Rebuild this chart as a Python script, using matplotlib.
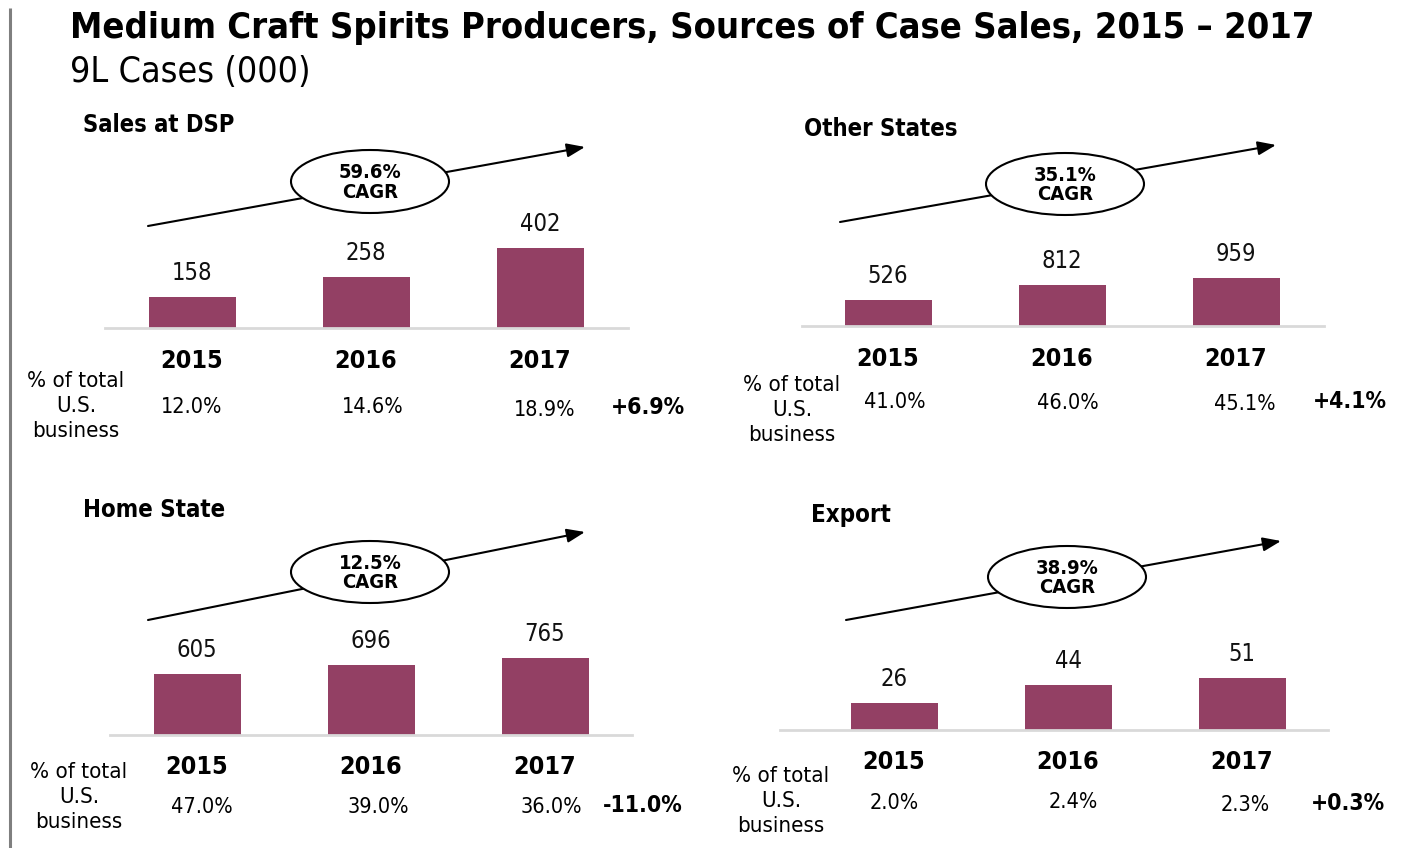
import matplotlib
matplotlib.use("Agg")
import matplotlib.pyplot as plt
from matplotlib import font_manager as fm
from matplotlib.patches import Ellipse
import matplotlib.transforms as mtransforms

# ---------------- data ----------------
years = ["2015", "2016", "2017"]

dsp_cases = [158, 258, 402]
dsp_share = ["12.0%", "14.6%", "18.9%"]
dsp_change = "+6.9%"
dsp_cagr = "59.6%"

other_cases = [526, 812, 959]
other_share = ["41.0%", "46.0%", "45.1%"]
other_change = "+4.1%"
other_cagr = "35.1%"

home_cases = [605, 696, 765]
home_share = ["47.0%", "39.0%", "36.0%"]
home_change = "-11.0%"
home_cagr = "12.5%"

export_cases = [26, 44, 51]
export_share = ["2.0%", "2.4%", "2.3%"]
export_change = "+0.3%"
export_cagr = "38.9%"

panel_titles = ["Sales at DSP", "Other States", "Home State", "Export"]
main_title = "Medium Craft Spirits Producers, Sources of Case Sales, 2015 \u2013 2017"
subtitle = "9L Cases (000)"
share_label = "% of total\nU.S.\nbusiness"

# ---------------- fonts ----------------
names = {f.name for f in fm.fontManager.ttflist}
if "Liberation Sans Narrow" in names:
    NARROW = dict(family="Liberation Sans Narrow")
elif any(f.name == "DejaVu Sans" and f.stretch == "condensed" for f in fm.fontManager.ttflist):
    NARROW = dict(family="DejaVu Sans", fontstretch="condensed")
else:
    NARROW = dict(family="Liberation Sans")
TITLE_BOLD = dict(NARROW, fontweight="bold")

W, H = 1405, 848
BAR_COLOR = "#934064"
fig = plt.figure(figsize=(W / 100, H / 100), dpi=100)
fig.patch.set_facecolor("white")

ov = fig.add_axes([0, 0, 1, 1])
ov.set_xlim(0, W)
ov.set_ylim(H, 0)
ov.axis("off")
ov.set_zorder(5)

renderer = fig.canvas.get_renderer()


def fit(t, target_w):
    bb = t.get_window_extent(renderer=renderer)
    t.set_fontsize(t.get_fontsize() * target_w / bb.width)


# left rule
ov.plot([10, 10], [8, H], color="#7f7f7f", lw=2.2, solid_capstyle="butt")

t = ov.text(70, 28, main_title, ha="left", va="center", fontsize=24, **TITLE_BOLD)
fit(t, 1243)
t = ov.text(70, 72, subtitle, ha="left", va="center", fontsize=24, **NARROW)
fit(t, 241)

panels = [
    dict(cases=dsp_cases, share=dsp_share, change=dsp_change, cagr=dsp_cagr,
         title=panel_titles[0], title_xy=(83, 125), title_w=152,
         line=(105, 628), base=328, scale=0.199, c0=192,
         arrow=((148, 226), (585, 147)), ell=(370, 181.5, 158, 63),
         year_y=361, lab=(76, 406),
         pct=[(192, 407), (373, 407), (545, 410)], chg=(648, 408)),
    dict(cases=other_cases, share=other_share, change=other_change, cagr=other_cagr,
         title=panel_titles[1], title_xy=(804, 129), title_w=154,
         line=(802, 1324), base=326, scale=0.050, c0=888,
         arrow=((840, 222), (1276, 145)), ell=(1065, 184, 158, 62),
         year_y=359, lab=(792, 410),
         pct=[(895, 402), (1068, 403), (1245, 404)], chg=(1350, 402)),
    dict(cases=home_cases, share=home_share, change=home_change, cagr=home_cagr,
         title=panel_titles[2], title_xy=(83, 510), title_w=143,
         line=(110, 632), base=735, scale=0.1007, c0=197,
         arrow=((148, 620), (585, 532)), ell=(370, 572, 158, 62),
         year_y=767, lab=(79, 797),
         pct=[(202, 807), (378, 807), (551, 807)], chg=(643, 806)),
    dict(cases=export_cases, share=export_share, change=export_change, cagr=export_cagr,
         title=panel_titles[3], title_xy=(811, 515), title_w=80,
         line=(780, 1328), base=730, scale=1.02, c0=894,
         arrow=((846, 620), (1281, 541)), ell=(1067, 577, 158, 62),
         year_y=762, lab=(781, 801),
         pct=[(894, 803), (1073, 802), (1245, 805)], chg=(1348, 804)),
]

SPACING = 174
AX_H = 120

for p in panels:
    x0, x1 = p["line"]
    ax = fig.add_axes([x0 / W, (H - p["base"]) / H, (x1 - x0) / W, AX_H / H])
    ax.set_xlim((x0 - p["c0"]) / SPACING, (x1 - p["c0"]) / SPACING)
    ax.set_ylim(0, AX_H / p["scale"])
    ax.bar(range(len(years)), p["cases"], width=0.5, color=BAR_COLOR, zorder=2)
    ax.axis("off")
    ax.patch.set_alpha(0)
    for i, v in enumerate(p["cases"]):
        ax.annotate(f"{v}", (i, v), xytext=(0, 24), textcoords="offset pixels",
                    ha="center", va="center", fontsize=17, color="#111111", **NARROW)
    ov.plot([x0, x1], [p["base"], p["base"]], color="#d9d9d9", lw=2, zorder=1)
    blend = mtransforms.blended_transform_factory(ax.transData, ov.transData)
    for i, y in enumerate(years):
        ov.text(i, p["year_y"], y, transform=blend, ha="center", va="center",
                fontsize=18, fontweight="bold", **NARROW)
    tt = ov.text(p["title_xy"][0], p["title_xy"][1], p["title"], ha="left", va="center",
                 fontsize=16, **TITLE_BOLD)
    fit(tt, p["title_w"])
    (ax_, ay_), (bx_, by_) = p["arrow"]
    ov.annotate("", xy=(bx_, by_), xytext=(ax_, ay_),
                arrowprops=dict(arrowstyle="-|>,head_length=1.1,head_width=0.42",
                                color="black", lw=1.5, shrinkA=0, shrinkB=0))
    ex, ey, ew, eh = p["ell"]
    ov.add_patch(Ellipse((ex, ey), ew, eh, facecolor="white", edgecolor="black",
                         lw=1.5, zorder=6))
    ov.text(ex, ey + 1, f"{p['cagr']}\nCAGR", ha="center", va="center", fontsize=14.5,
            fontweight="bold", linespacing=1.05, zorder=7, **NARROW)
    ov.text(p["lab"][0], p["lab"][1], share_label, ha="center", va="center",
            fontsize=16, linespacing=1.33, **NARROW)
    for (px_, py_), s in zip(p["pct"], p["share"]):
        ov.text(px_, py_, s, ha="center", va="center", fontsize=15.5, **NARROW)
    ov.text(p["chg"][0], p["chg"][1], p["change"], ha="center", va="center",
            fontsize=16.5, fontweight="bold", **NARROW)

fig.savefig("out.png", dpi=100)
